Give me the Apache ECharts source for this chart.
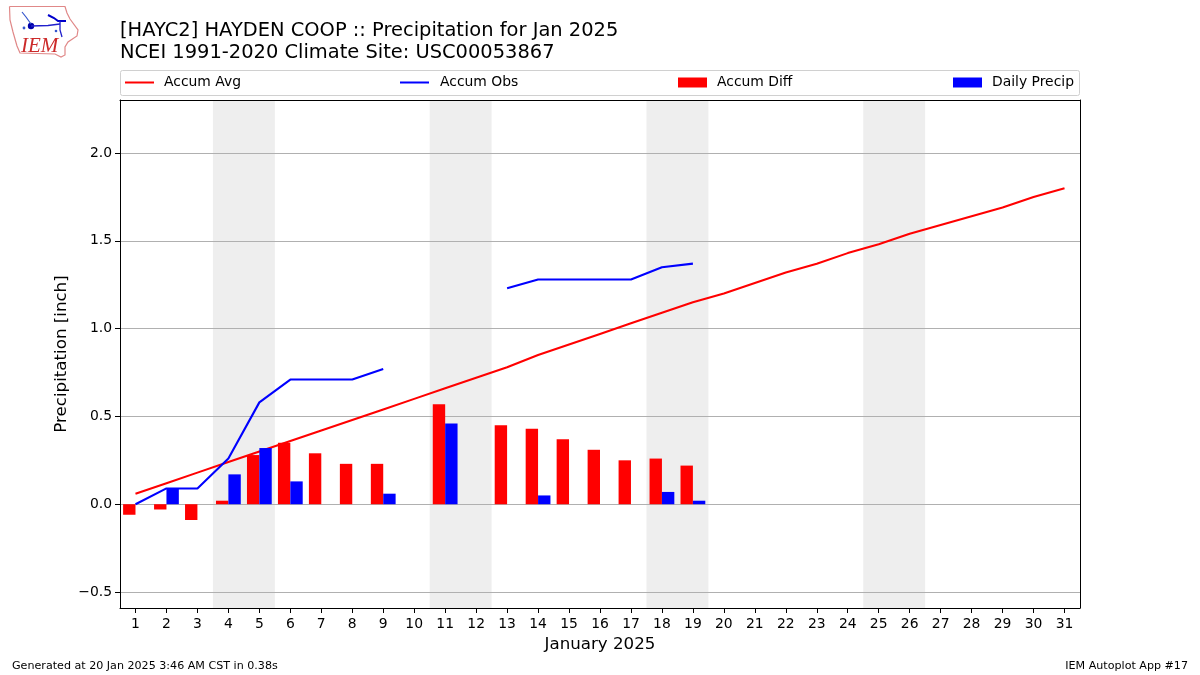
<!DOCTYPE html>
<html><head><meta charset="utf-8">
<script src="https://cdn.jsdelivr.net/npm/echarts@6/dist/echarts.min.js"></script>
<style>html,body{margin:0;padding:0;background:#fff}#c{width:1200px;height:675px}</style>
</head><body><div id="c"></div>
<script>
const days = ['1','2','3','4','5','6','7','8','9','10','11','12','13','14','15','16','17','18','19','20','21','22','23','24','25','26','27','28','29','30','31'];
const accumAvg = [0.06,0.12,0.18,0.24,0.30,0.36,0.42,0.48,0.54,0.60,0.66,0.72,0.78,0.85,0.91,0.97,1.03,1.09,1.15,1.20,1.26,1.32,1.37,1.43,1.48,1.54,1.59,1.64,1.69,1.75,1.80];
const accumObs = [0,0.09,0.09,0.26,0.58,0.71,0.71,0.71,0.77,null,null,null,1.23,1.28,1.28,1.28,1.28,1.35,1.37];
const accumDiff = [-0.06,-0.03,-0.09,0.02,0.28,0.35,0.29,0.23,0.23,null,0.57,null,0.45,0.43,0.37,0.31,0.25,0.26,0.22];
const dailyPrecip = [0,0.09,0,0.17,0.32,0.13,0,0,0.06,null,0.46,null,0,0.05,0,0,0,0.07,0.02];
const weekends = [[3.5,5.5],[10.5,12.5],[17.5,19.5],[24.5,26.5]];
const yTicks = [-0.5,0,0.5,1,1.5,2];
const titleText = '[HAYC2] HAYDEN COOP :: Precipitation for Jan 2025\nNCEI 1991-2020 Climate Site: USC00053867';
const footLeft = 'Generated at 20 Jan 2025 3:46 AM CST in 0.38s';
const footRight = 'IEM Autoplot App #17';
const F = 'DejaVu Sans';
const Y_MIN = -0.591, Y_MAX = 2.302;
const chart = echarts.init(document.getElementById('c'), null, {renderer:'canvas'});
const leg = (name,left,isLine,gap)=>({data:[{name:name,icon:'rect'}],left:left,top:75.5,padding:0,itemWidth:29,itemHeight:isLine?2:10,
  selectedMode:false,textStyle:{fontFamily:F,fontSize:13.9,color:'#000',padding:[0,0,0,gap]}});
chart.setOption({
  animation:false,
  backgroundColor:'#fff',
  title:[
    {text:titleText,left:120,top:19.5,padding:0,textStyle:{fontFamily:F,fontSize:19.44,fontWeight:'normal',color:'#000',lineHeight:22}},
    {text:footLeft,left:12,top:661,padding:0,textStyle:{fontFamily:F,fontSize:11.11,fontWeight:'normal',color:'#000'}},
    {text:footRight,right:12,top:661,padding:0,textStyle:{fontFamily:F,fontSize:11.11,fontWeight:'normal',color:'#000'}}
  ],
  legend:[leg('Accum Avg',125,true,5),leg('Accum Obs',400,true,6),leg('Accum Diff',678,false,5),leg('Daily Precip',953,false,5)],
  grid:{left:120,top:100,width:960,height:508,show:false},
  xAxis:[
    {type:'category',data:days,boundaryGap:true,z:1,name:'January 2025',nameLocation:'middle',nameGap:28,
     nameTextStyle:{fontFamily:F,fontSize:16.67,color:'#000'},
     axisLine:{onZero:false,lineStyle:{color:'#000'}},axisTick:{show:true,alignWithLabel:true,length:5,lineStyle:{color:'#000',width:1}},
     axisLabel:{fontFamily:F,fontSize:13.9,color:'#000',margin:9,interval:0},splitLine:{show:false}},
    {type:'value',min:0.5,max:31.5,position:'top',z:1,
     axisLine:{show:true,onZero:false,lineStyle:{color:'#000'}},axisTick:{show:false},axisLabel:{show:false},splitLine:{show:false}}
  ],
  yAxis:[
    {type:'value',min:Y_MIN,max:Y_MAX,z:1,name:'Precipitation [inch]',nameLocation:'middle',nameGap:50,nameMoveOverlap:false,
     nameTextStyle:{fontFamily:F,fontSize:16.67,color:'#000'},
     axisLine:{show:true,onZero:false,lineStyle:{color:'#000'}},
     axisTick:{show:true,length:5,customValues:yTicks,lineStyle:{color:'#000',width:1}},
     axisLabel:{fontFamily:F,fontSize:13.9,color:'#000',margin:8,customValues:yTicks,
       formatter:v=>(v<0?'\u2212':'')+Math.abs(v).toFixed(1)},
     splitLine:{show:true,lineStyle:{color:'#b0b0b0',width:1}}},
    {type:'value',min:Y_MIN,max:Y_MAX,position:'right',z:1,
     axisLine:{show:true,onZero:false,lineStyle:{color:'#000'}},axisTick:{show:false},axisLabel:{show:false},splitLine:{show:false}}
  ],
  series:[
    {name:'Weekend',type:'line',xAxisIndex:1,yAxisIndex:0,data:[],z:0,silent:true,
     markArea:{silent:true,z:0,itemStyle:{color:'#eeeeee'},label:{show:false},
       data:weekends.map(w=>[{xAxis:w[0]},{xAxis:w[1]}])}},
    {name:'Accum Avg',type:'line',data:accumAvg,symbol:'none',lineStyle:{color:'#ff0000',width:2.08},itemStyle:{color:'#ff0000'},z:2},
    {name:'Accum Obs',type:'line',data:accumObs,symbol:'none',connectNulls:false,lineStyle:{color:'#0000ff',width:2.08},itemStyle:{color:'#0000ff'},z:2},
    {name:'Accum Diff',type:'bar',data:accumDiff,barWidth:12.39,barGap:0,itemStyle:{color:'#ff0000'},z:3},
    {name:'Daily Precip',type:'bar',data:dailyPrecip,barWidth:12.39,barGap:0,itemStyle:{color:'#0000ff'},z:3}
  ],
  graphic:[
    {type:'rect',silent:true,z:-1,shape:{x:120.5,y:70.5,width:959,height:25,r:2},style:{fill:'#fff',stroke:'#d0d0d0',lineWidth:1}},
    {type:'polyline',silent:true,shape:{points:[[9.5,6.5],[65,6.5],[67,13],[70,19],[78,30],[77,36],[68,42],[65,47],[65,55],[61,57],[55,54],[20,53],[17,46],[13,32],[10,20],[9.5,6.5]]},style:{fill:'none',stroke:'#e08888',lineWidth:1.2}},
    {type:'text',silent:true,style:{x:21,y:36,text:'IEM',fontFamily:'Liberation Serif',fontStyle:'italic',fontSize:21,fill:'#cc2a2a'}},
    {type:'circle',silent:true,shape:{cx:31,cy:26,r:3.2},style:{fill:'#0000aa'}},
    {type:'polyline',silent:true,shape:{points:[[31,26],[48,25.5],[60,24]]},style:{stroke:'#2020cc',lineWidth:1.6,fill:'none'}},
    {type:'polyline',silent:true,shape:{points:[[48,15],[54,18],[58,21],[66,21]]},style:{stroke:'#0000cc',lineWidth:2,fill:'none'}},
    {type:'polyline',silent:true,shape:{points:[[60,21],[60,30],[62,37]]},style:{stroke:'#2020cc',lineWidth:1.3,fill:'none'}},
    {type:'polyline',silent:true,shape:{points:[[22,12],[26,17],[31,24]]},style:{stroke:'#3355cc',lineWidth:1.2,fill:'none'}},
    {type:'circle',silent:true,shape:{cx:24,cy:28,r:1.4},style:{fill:'#3355cc'}},
    {type:'circle',silent:true,shape:{cx:56,cy:31,r:1.3},style:{fill:'#3355cc'}}
  ]
});
</script></body></html>
